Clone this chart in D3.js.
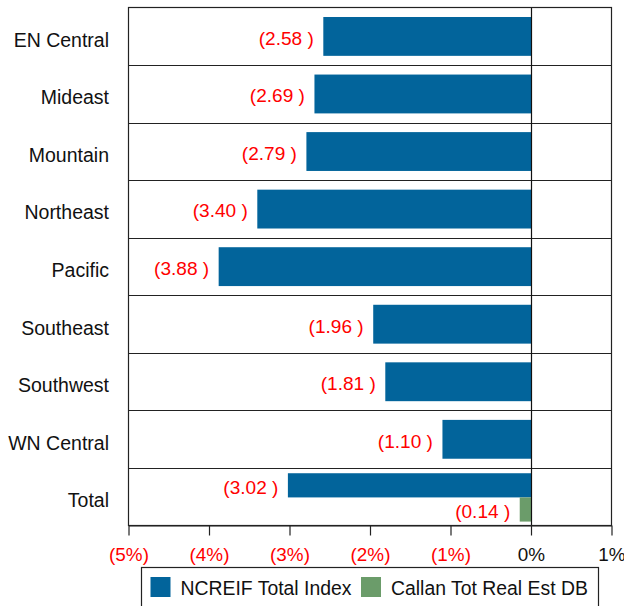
<!DOCTYPE html>
<html><head><meta charset="utf-8">
<script src="https://cdn.jsdelivr.net/npm/d3@7/dist/d3.min.js"></script>
<style>body{margin:0;background:#fff;} svg{display:block;font-family:"Liberation Sans",Arial,sans-serif;}</style>
</head><body>
<svg id="c" width="624" height="606"></svg>
<script>
const categories = ["EN Central","Mideast","Mountain","Northeast","Pacific","Southeast","Southwest","WN Central","Total"];
const ncreifValues = [-2.58,-2.69,-2.79,-3.40,-3.88,-1.96,-1.81,-1.10,-3.02];
const callanValues = [null,null,null,null,null,null,null,null,-0.14];
const tickValues = [-5,-4,-3,-2,-1,0,1];
const seriesNames = ["NCREIF Total Index","Callan Tot Real Est DB"];
const colors = ["#02649b","#6b9c6a"];

const svg = d3.select("#c");
const L = 128.5, R = 611.5, T = 7.5, B = 525.5;
const x = d3.scaleLinear().domain([-5,1]).range([L,R]);
const y = d3.scaleBand().domain(categories).range([T,B]).padding(0);
const bw = y.bandwidth();
const red = "#ff0000";
const fmtVal = v => v < 0 ? "(" + Math.abs(v).toFixed(2) + " )" : v.toFixed(2);
const fmtTick = v => v < 0 ? "(" + Math.abs(v) + "%)" : v + "%";

function stretchedText(px, py, str, size, sx, anchor, fill) {
  svg.append("text")
    .attr("transform", `translate(${px},${py}) scale(${sx},1)`)
    .attr("text-anchor", anchor).attr("font-size", size).attr("fill", fill)
    .text(str);
}

// bars
categories.forEach((c,i) => {
  const y0 = y(c);
  const two = callanValues[i] !== null;
  const items = [];
  if (two) {
    items.push({v: ncreifValues[i], s:0, y: y0 + bw*0.092, h: bw*0.42});
    items.push({v: callanValues[i], s:1, y: y0 + bw*0.092 + bw*0.42, h: bw*0.42});
  } else {
    items.push({v: ncreifValues[i], s:0, y: y0 + bw*0.165, h: bw*0.675});
  }
  items.forEach(d => {
    svg.append("rect")
      .attr("x", x(Math.min(0,d.v))).attr("y", d.y)
      .attr("width", Math.abs(x(d.v)-x(0))).attr("height", d.h)
      .attr("fill", colors[d.s]);
    stretchedText(x(d.v) - 9.5, d.y + d.h/2 + 8.4, fmtVal(d.v), 18, 1.06, "end", d.v < 0 ? red : "#000");
  });
  svg.append("text")
    .attr("x", 109).attr("y", y0 + bw/2 + 10.5)
    .attr("text-anchor","end").attr("font-size",19.5).attr("fill","#111")
    .text(c);
});

// row separators
categories.slice(1).forEach(c => {
  svg.append("line").attr("x1",L).attr("x2",R).attr("y1",Math.round(y(c))+0.5).attr("y2",Math.round(y(c))+0.5)
    .attr("stroke","#222").attr("stroke-width",1);
});
// zero line
svg.append("line").attr("x1",Math.round(x(0))+0.5).attr("x2",Math.round(x(0))+0.5).attr("y1",T).attr("y2",B)
  .attr("stroke","#111").attr("stroke-width",1.2);
// border
svg.append("rect").attr("x",L).attr("y",T).attr("width",R-L).attr("height",B-T)
  .attr("fill","none").attr("stroke","#222").attr("stroke-width",1.2);

// x axis
const axis = d3.axisBottom(x).tickValues(tickValues).tickSize(10).tickSizeOuter(0).tickFormat(fmtTick);
const g = svg.append("g").attr("transform",`translate(0,${B})`).call(axis);
g.select(".domain").attr("stroke","#222");
g.selectAll(".tick line").attr("stroke","#222").attr("stroke-width",1.2);
g.selectAll(".tick text").attr("y",0).attr("dy",null)
  .attr("transform","translate(0,35.7) scale(1.05,1)")
  .attr("font-size",18)
  .attr("font-family","Liberation Sans, Arial, sans-serif")
  .attr("fill", d => d < 0 ? red : "#111");

// legend
svg.append("rect").attr("x",141.5).attr("y",567.5).attr("width",457).attr("height",50)
  .attr("fill","#fff").attr("stroke","#222").attr("stroke-width",1.2);
const lx = [150.5, 361];
seriesNames.forEach((n,i) => {
  svg.append("rect").attr("x",lx[i]).attr("y",577).attr("width",20).attr("height",20).attr("fill",colors[i]);
  svg.append("text").attr("x",lx[i]+30).attr("y",595.3)
    .attr("font-size",19.4).attr("fill","#111").text(n);
});
</script>
</body></html>
